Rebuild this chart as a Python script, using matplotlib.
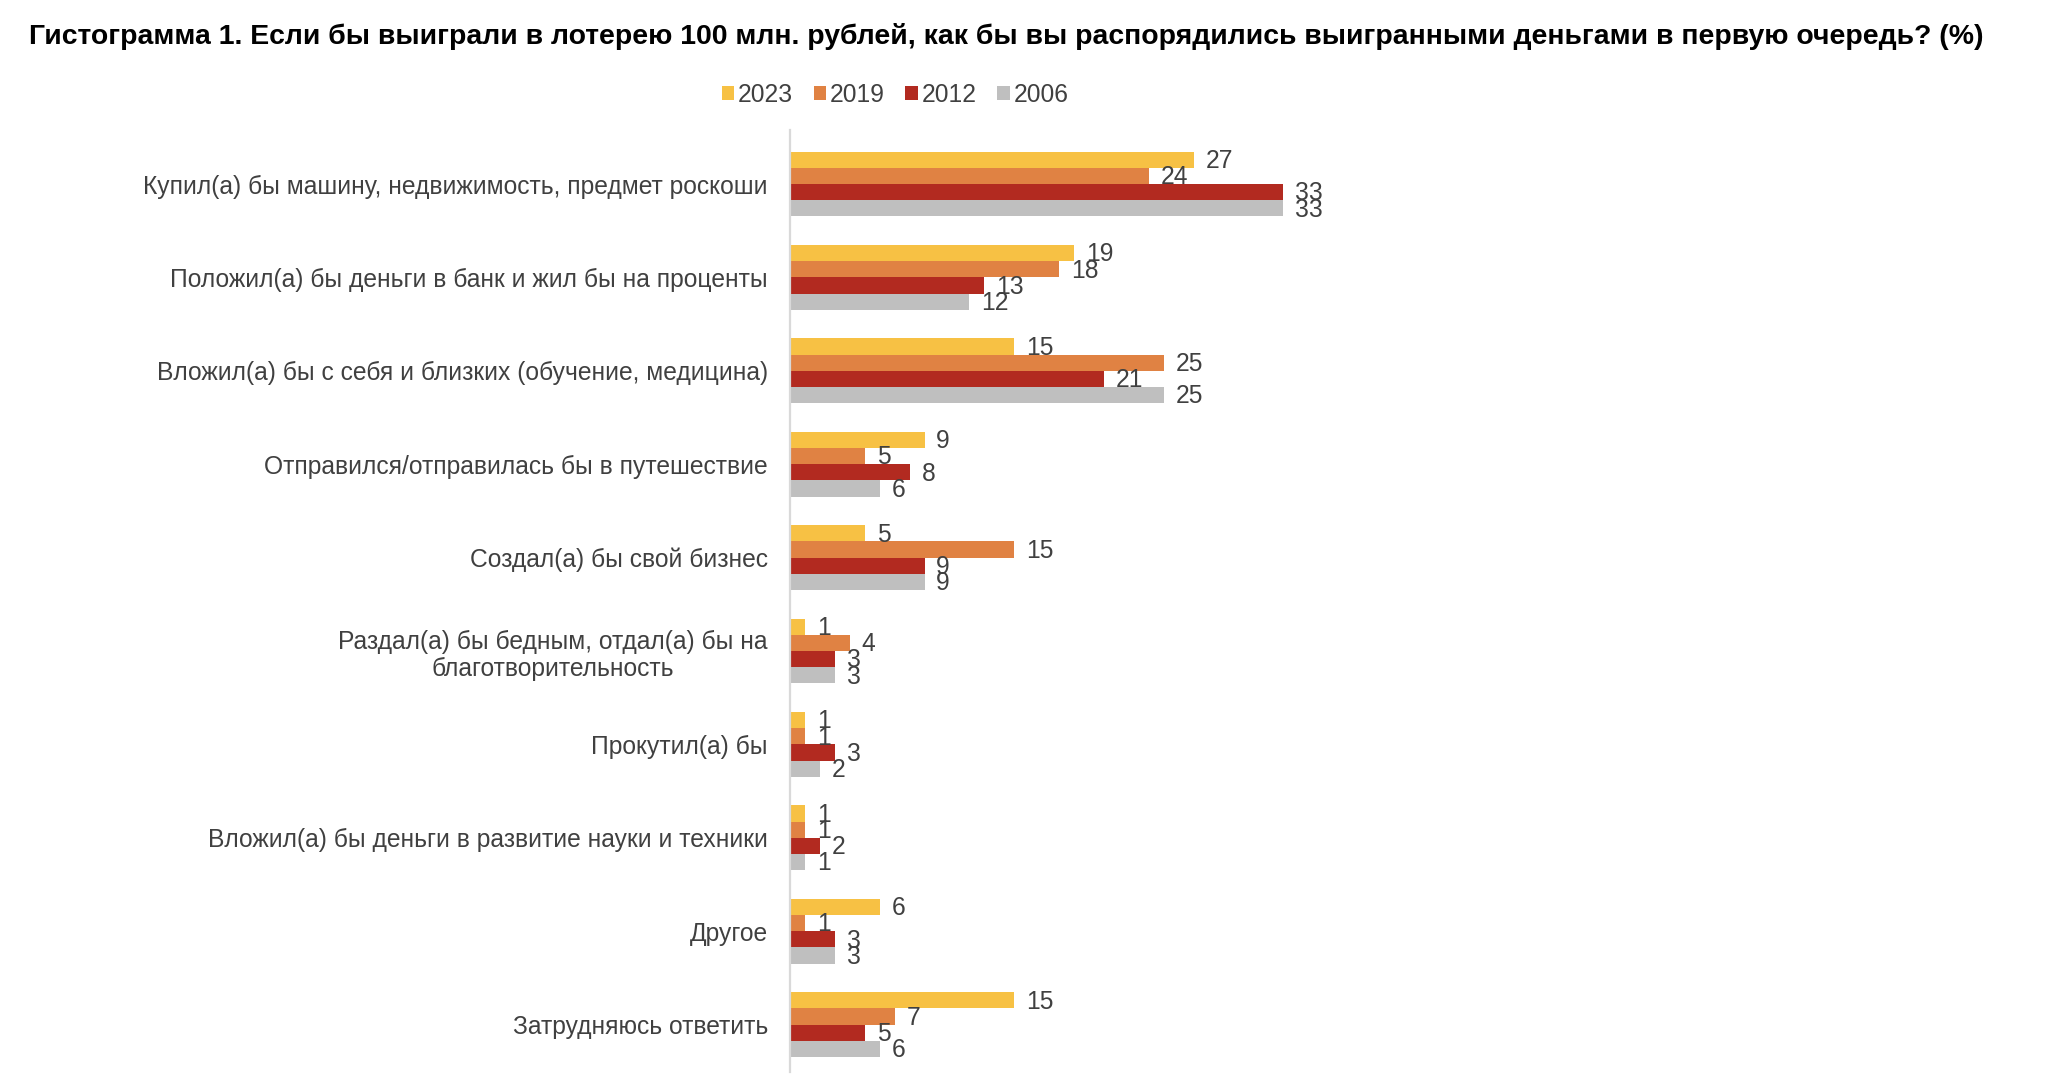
import matplotlib
matplotlib.use("Agg")
import matplotlib.pyplot as plt
from matplotlib.patches import Patch

plt.rcParams['font.family'] = ['Liberation Sans', 'DejaVu Sans']

categories = [
    "Купил(а) бы машину, недвижимость, предмет роскоши",
    "Положил(а) бы деньги в банк и жил бы на проценты",
    "Вложил(а) бы с себя и близких (обучение, медицина)",
    "Отправился/отправилась бы в путешествие",
    "Создал(а) бы свой бизнес",
    "Раздал(а) бы бедным, отдал(а) бы на\nблаготворительность",
    "Прокутил(а) бы",
    "Вложил(а) бы деньги в развитие науки и техники",
    "Другое",
    "Затрудняюсь ответить",
]
series_names = ["2023", "2019", "2012", "2006"]
v2023 = [27, 19, 15, 9, 5, 1, 1, 1, 6, 15]
v2019 = [24, 18, 25, 5, 15, 4, 1, 1, 1, 7]
v2012 = [33, 13, 21, 8, 9, 3, 3, 2, 3, 5]
v2006 = [33, 12, 25, 6, 9, 3, 2, 1, 3, 6]
series = [v2023, v2019, v2012, v2006]
colors = ["#F7C144", "#E08243", "#B22A20", "#BFBFBF"]

W, H = 2048, 1084
fig = plt.figure(figsize=(W / 100, H / 100), dpi=100)

ax_left = 790 / W
ax_right = 2010 / W
ax_top = 130 / H
ax_bot = 1072 / H
ax = fig.add_axes([ax_left, 1 - ax_bot, ax_right - ax_left, ax_bot - ax_top])

px_per_unit = 14.95
ax.set_xlim(0, (2010 - 790) / px_per_unit)
spacing = 93.4
ax.set_ylim((1072 - 184) / spacing, -(184 - 130) / spacing)

fs = 17.7
h = 16.2 / spacing
for k, (vals, col) in enumerate(zip(series, colors)):
    ys = [i + (k - 1.5) * h for i in range(len(categories))]
    ax.barh(ys, vals, height=h, color=col, edgecolor='none')
    for y, v in zip(ys, vals):
        ax.annotate(str(v), (v, y), xytext=(8.5, -1), textcoords='offset points',
                    ha='left', va='center', fontsize=fs, color='#404040')

ax.set_yticks(range(len(categories)))
ax.set_yticklabels(categories, fontsize=fs, color='#404040', multialignment='center')
ax.tick_params(axis='y', length=0, pad=16)
ax.set_xticks([])
for s in ['top', 'right', 'bottom']:
    ax.spines[s].set_visible(False)
ax.spines['left'].set_color('#D9D9D9')
ax.spines['left'].set_linewidth(1.6)

fig.text(29 / W, 1 - 37 / H, "Гистограмма 1. Если бы выиграли в лотерею 100 млн. рублей, как бы вы распорядились выигранными деньгами в первую очередь? (%)",
         fontsize=20.4, fontweight='bold', ha='left', va='center', color='black')

handles = [Patch(facecolor=c, edgecolor='none') for c in colors]
leg = fig.legend(handles, series_names, loc='center', bbox_to_anchor=(895 / W, 1 - 95 / H),
                 ncol=4, frameon=False, fontsize=fs, handlelength=0.5, handleheight=0.5,
                 handletextpad=0.15, columnspacing=0.85)
for t in leg.get_texts():
    t.set_color('#404040')

fig.savefig("out.png", dpi=100)
